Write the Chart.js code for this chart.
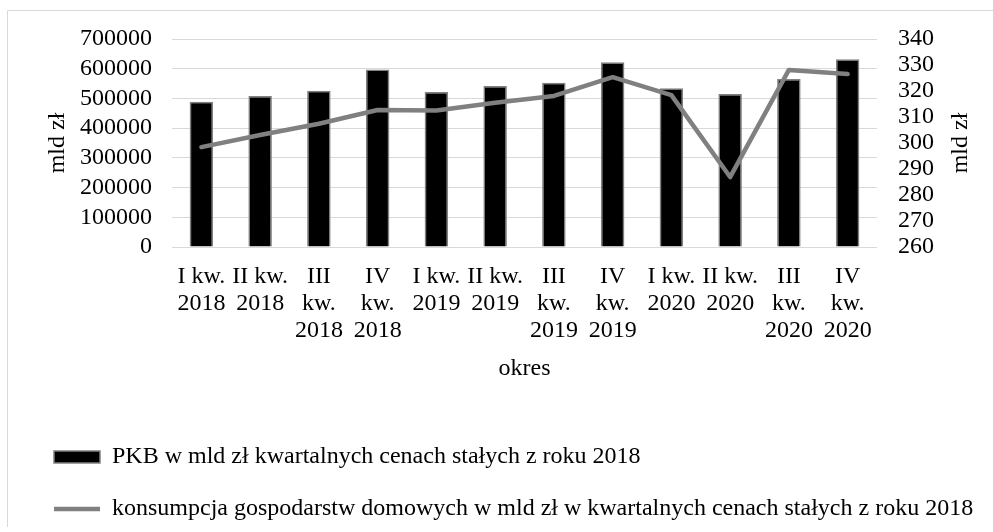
<!DOCTYPE html>
<html>
<head>
<meta charset="utf-8">
<script src="https://cdn.jsdelivr.net/npm/chart.js@4/dist/chart.umd.min.js"></script>
<style>
  html, body { margin: 0; padding: 0; background: #ffffff; }
  #wrap { width: 993px; height: 532px; position: relative; }
</style>
</head>
<body>
<div id="wrap"><canvas id="c" width="993" height="532"></canvas></div>
<script>
// ---- data ----
const categories = [
  ["I kw.", "2018"], ["II kw.", "2018"], ["III", "kw.", "2018"], ["IV", "kw.", "2018"],
  ["I kw.", "2019"], ["II kw.", "2019"], ["III", "kw.", "2019"], ["IV", "kw.", "2019"],
  ["I kw.", "2020"], ["II kw.", "2020"], ["III", "kw.", "2020"], ["IV", "kw.", "2020"]
];
const pkbValues = [489000, 508000, 526000, 597000, 522000, 542000, 553000, 622000, 534000, 515000, 565000, 632000];
const konsumpcjaValues = [298.4, 303.1, 307.4, 312.7, 312.5, 315.5, 318.1, 325.3, 318.4, 286.9, 328.1, 326.5];
const seriesNames = [
  "PKB w mld zł kwartalnych cenach stałych z roku 2018",
  "konsumpcja gospodarstw domowych w mld zł w kwartalnych cenach stałych z roku 2018"
];
const leftAxisRange = [0, 700000, 100000];
const rightAxisRange = [260, 340, 10];
const axisTitles = ["mld zł", "mld zł", "okres"];

// ---- styles ----
const FONT = "'Liberation Serif', 'Times New Roman', serif";
const FS = 24;

const framePlugin = {
  id: 'frame',
  beforeDraw(chart) {
    const ctx = chart.ctx;
    ctx.save();
    ctx.fillStyle = '#ffffff';
    ctx.fillRect(0, 0, chart.width, chart.height);
    ctx.strokeStyle = '#d9d9d9';
    ctx.lineWidth = 1;
    ctx.beginPath();
    ctx.moveTo(7.5, 527);
    ctx.lineTo(7.5, 10.5);
    ctx.lineTo(chart.width, 10.5);
    ctx.stroke();
    ctx.restore();
  },
  afterDraw(chart) {
    const ctx = chart.ctx;
    const s = chart.scales.y2;
    const ca = chart.chartArea;
    ctx.save();
    ctx.font = FS + "px " + FONT;
    ctx.fillStyle = '#000000';
    ctx.textAlign = 'center';
    ctx.textBaseline = 'middle';
    ctx.translate(s.right - 32, (ca.top + ca.bottom) / 2);
    ctx.rotate(-Math.PI / 2);
    ctx.fillText(axisTitles[1], 0, 0);
    ctx.restore();
  }
};

new Chart(document.getElementById('c'), {
  type: 'bar',
  data: {
    labels: categories,
    datasets: [
      {
        type: 'bar',
        label: seriesNames[0],
        data: pkbValues,
        yAxisID: 'y',
        backgroundColor: '#000000',
        borderColor: '#808080',
        borderWidth: 1.5,
        categoryPercentage: 1,
        barPercentage: 0.4,
        pointStyle: 'rect',
        order: 1
      },
      {
        type: 'line',
        label: seriesNames[1],
        data: konsumpcjaValues,
        yAxisID: 'y2',
        borderColor: '#808080',
        backgroundColor: '#808080',
        borderWidth: 4.5,
        borderCapStyle: 'round',
        borderJoinStyle: 'round',
        pointRadius: 0,
        pointHoverRadius: 0,
        tension: 0,
        pointStyle: 'line',
        order: 0
      }
    ]
  },
  options: {
    responsive: false,
    animation: false,
    devicePixelRatio: 1,
    layout: { padding: { left: 26, top: 39, right: 0, bottom: 1 } },
    font: { family: FONT, size: FS },
    color: '#000000',
    plugins: {
      tooltip: { enabled: false },
      legend: {
        position: 'bottom',
        align: 'start',
        labels: {
          usePointStyle: true,
          pointStyleWidth: 46,
          boxHeight: 12,
          padding: 28,
          color: '#000000',
          font: { family: FONT, size: FS },
          sort: (a, b) => a.datasetIndex - b.datasetIndex
        }
      }
    },
    scales: {
      x: {
        grid: { display: false, drawTicks: false },
        border: { display: false },
        ticks: {
          autoSkip: false, maxRotation: 0, minRotation: 0,
          padding: 16, color: '#000000',
          font: { family: FONT, size: FS, lineHeight: 27 / 24 }
        },
        title: {
          display: true, text: axisTitles[2], color: '#000000',
          font: { family: FONT, size: FS },
          padding: { top: 0, bottom: 34 }
        },
        afterFit(scale) { scale.height = 170; }
      },
      y: {
        position: 'left',
        min: leftAxisRange[0], max: leftAxisRange[1],
        grid: { color: '#d9d9d9', lineWidth: 1, drawTicks: false },
        border: { display: false },
        ticks: {
          autoSkip: false,
          stepSize: leftAxisRange[2], padding: 20, color: '#000000',
          font: { family: FONT, size: FS },
          callback: (v) => String(v)
        },
        title: {
          display: true, text: axisTitles[0], color: '#000000',
          font: { family: FONT, size: FS },
          padding: { top: 17, bottom: 0 }
        },
        afterFit(scale) { scale.width = 146; }
      },
      y2: {
        position: 'right',
        min: rightAxisRange[0], max: rightAxisRange[1],
        grid: { display: false, drawTicks: false },
        border: { display: false },
        ticks: {
          autoSkip: false,
          stepSize: rightAxisRange[2], padding: 21, color: '#000000',
          font: { family: FONT, size: FS }
        },
        afterFit(scale) { scale.width = 116; }
      }
    }
  },
  plugins: [framePlugin]
});
</script>
</body>
</html>
